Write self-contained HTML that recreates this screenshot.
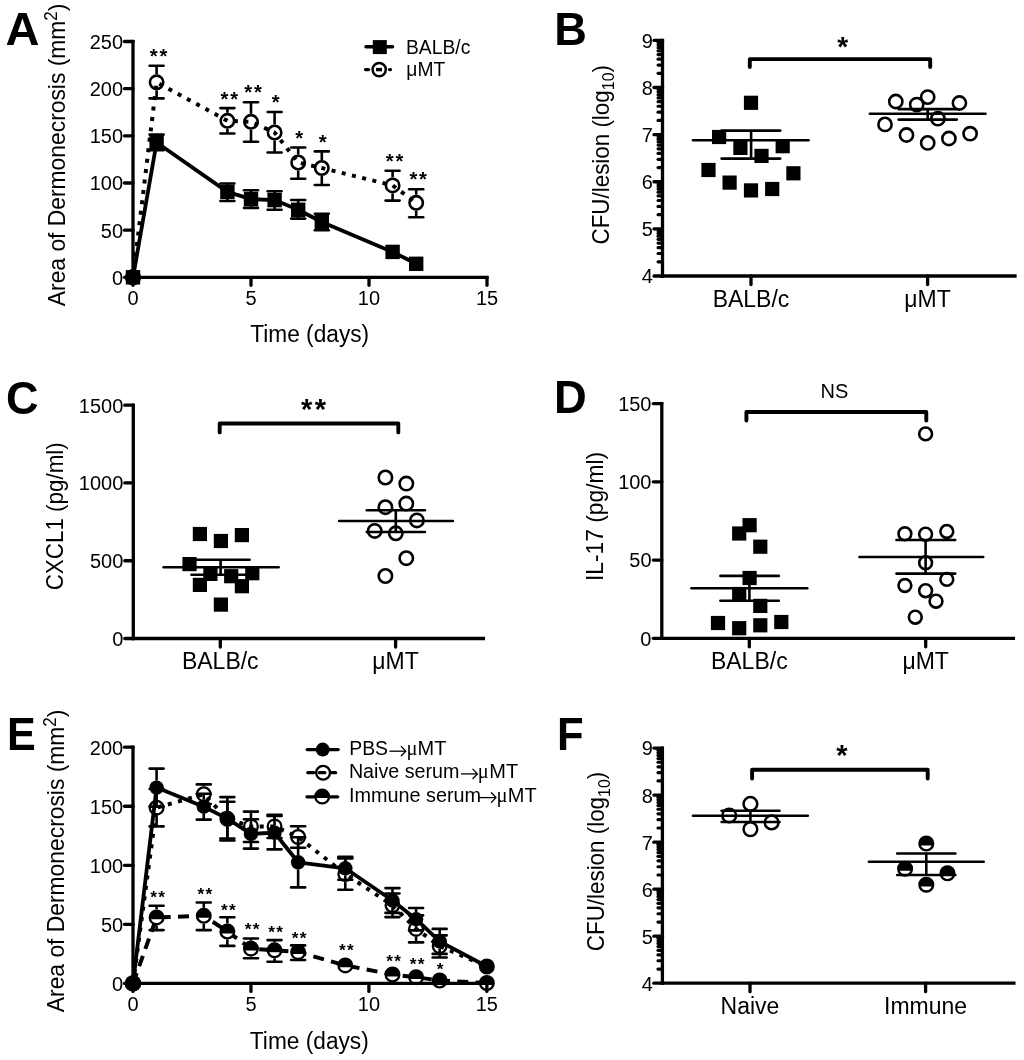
<!DOCTYPE html>
<html><head><meta charset="utf-8"><style>
html,body{margin:0;padding:0;background:#fff;overflow:hidden;}
svg{display:block;filter:grayscale(1);}
</style></head><body>
<svg width="1024" height="1060" viewBox="0 0 1024 1060">
<rect width="1024" height="1060" fill="#fff"/>
<text x="309.70" y="342.50" font-family="'Liberation Sans',sans-serif" font-size="22.7" font-weight="normal" text-anchor="middle" transform="matrix(1,0,0,1.045,0,-15.412)" >Time (days)</text>
<text transform="translate(65.00,306.20) rotate(-90) scale(1,1.045)" font-family="'Liberation Sans',sans-serif" font-size="22.85" text-anchor="start" >Area of Dermonecrosis (mm<tspan dy="-8" font-size="17">2</tspan><tspan dy="8">)</tspan></text>
<text transform="translate(5.40,44.90) scale(1.0,1)" font-family="'Liberation Sans',sans-serif" font-size="47" font-weight="bold">A</text>
<polyline points="133.00,277.30 156.60,82.30 227.40,120.80 251.00,121.80 274.60,132.50 298.20,162.50 321.80,168.00 392.60,185.40 416.20,202.80" fill="none" stroke="#000" stroke-width="4.0" stroke-linecap="butt" stroke-linejoin="miter" stroke-dasharray="4 6.5" stroke-dashoffset="0"/>
<line x1="156.60" y1="65.70" x2="156.60" y2="74.30" stroke="#000" stroke-width="2.6" stroke-linecap="butt" />
<line x1="156.60" y1="90.30" x2="156.60" y2="98.40" stroke="#000" stroke-width="2.6" stroke-linecap="butt" />
<line x1="149.60" y1="65.70" x2="163.60" y2="65.70" stroke="#000" stroke-width="2.6" stroke-linecap="round" />
<line x1="149.60" y1="98.40" x2="163.60" y2="98.40" stroke="#000" stroke-width="2.6" stroke-linecap="round" />
<line x1="227.40" y1="108.10" x2="227.40" y2="112.80" stroke="#000" stroke-width="2.6" stroke-linecap="butt" />
<line x1="227.40" y1="128.80" x2="227.40" y2="133.50" stroke="#000" stroke-width="2.6" stroke-linecap="butt" />
<line x1="220.40" y1="108.10" x2="234.40" y2="108.10" stroke="#000" stroke-width="2.6" stroke-linecap="round" />
<line x1="220.40" y1="133.50" x2="234.40" y2="133.50" stroke="#000" stroke-width="2.6" stroke-linecap="round" />
<line x1="251.00" y1="102.30" x2="251.00" y2="113.80" stroke="#000" stroke-width="2.6" stroke-linecap="butt" />
<line x1="251.00" y1="129.80" x2="251.00" y2="141.70" stroke="#000" stroke-width="2.6" stroke-linecap="butt" />
<line x1="244.00" y1="102.30" x2="258.00" y2="102.30" stroke="#000" stroke-width="2.6" stroke-linecap="round" />
<line x1="244.00" y1="141.70" x2="258.00" y2="141.70" stroke="#000" stroke-width="2.6" stroke-linecap="round" />
<line x1="274.60" y1="112.00" x2="274.60" y2="124.50" stroke="#000" stroke-width="2.6" stroke-linecap="butt" />
<line x1="274.60" y1="140.50" x2="274.60" y2="152.50" stroke="#000" stroke-width="2.6" stroke-linecap="butt" />
<line x1="267.60" y1="112.00" x2="281.60" y2="112.00" stroke="#000" stroke-width="2.6" stroke-linecap="round" />
<line x1="267.60" y1="152.50" x2="281.60" y2="152.50" stroke="#000" stroke-width="2.6" stroke-linecap="round" />
<line x1="298.20" y1="147.50" x2="298.20" y2="154.50" stroke="#000" stroke-width="2.6" stroke-linecap="butt" />
<line x1="298.20" y1="170.50" x2="298.20" y2="178.70" stroke="#000" stroke-width="2.6" stroke-linecap="butt" />
<line x1="291.20" y1="147.50" x2="305.20" y2="147.50" stroke="#000" stroke-width="2.6" stroke-linecap="round" />
<line x1="291.20" y1="178.70" x2="305.20" y2="178.70" stroke="#000" stroke-width="2.6" stroke-linecap="round" />
<line x1="321.80" y1="151.40" x2="321.80" y2="160.00" stroke="#000" stroke-width="2.6" stroke-linecap="butt" />
<line x1="321.80" y1="176.00" x2="321.80" y2="185.00" stroke="#000" stroke-width="2.6" stroke-linecap="butt" />
<line x1="314.80" y1="151.40" x2="328.80" y2="151.40" stroke="#000" stroke-width="2.6" stroke-linecap="round" />
<line x1="314.80" y1="185.00" x2="328.80" y2="185.00" stroke="#000" stroke-width="2.6" stroke-linecap="round" />
<line x1="392.60" y1="170.70" x2="392.60" y2="177.40" stroke="#000" stroke-width="2.6" stroke-linecap="butt" />
<line x1="392.60" y1="193.40" x2="392.60" y2="200.60" stroke="#000" stroke-width="2.6" stroke-linecap="butt" />
<line x1="385.60" y1="170.70" x2="399.60" y2="170.70" stroke="#000" stroke-width="2.6" stroke-linecap="round" />
<line x1="385.60" y1="200.60" x2="399.60" y2="200.60" stroke="#000" stroke-width="2.6" stroke-linecap="round" />
<line x1="416.20" y1="189.30" x2="416.20" y2="194.80" stroke="#000" stroke-width="2.6" stroke-linecap="butt" />
<line x1="416.20" y1="210.80" x2="416.20" y2="217.20" stroke="#000" stroke-width="2.6" stroke-linecap="butt" />
<line x1="409.20" y1="189.30" x2="423.20" y2="189.30" stroke="#000" stroke-width="2.6" stroke-linecap="round" />
<line x1="409.20" y1="217.20" x2="423.20" y2="217.20" stroke="#000" stroke-width="2.6" stroke-linecap="round" />
<circle cx="133.00" cy="277.30" r="6.7" fill="none" stroke="#000" stroke-width="2.6"/>
<circle cx="156.60" cy="82.30" r="6.7" fill="none" stroke="#000" stroke-width="2.6"/>
<circle cx="227.40" cy="120.80" r="6.7" fill="none" stroke="#000" stroke-width="2.6"/>
<circle cx="251.00" cy="121.80" r="6.7" fill="none" stroke="#000" stroke-width="2.6"/>
<circle cx="274.60" cy="132.50" r="6.7" fill="none" stroke="#000" stroke-width="2.6"/>
<circle cx="298.20" cy="162.50" r="6.7" fill="none" stroke="#000" stroke-width="2.6"/>
<circle cx="321.80" cy="168.00" r="6.7" fill="none" stroke="#000" stroke-width="2.6"/>
<circle cx="392.60" cy="185.40" r="6.7" fill="none" stroke="#000" stroke-width="2.6"/>
<circle cx="416.20" cy="202.80" r="6.7" fill="none" stroke="#000" stroke-width="2.6"/>
<polyline points="133.00,277.30 156.60,142.50 227.40,191.90 251.00,199.10 274.60,200.10 298.20,209.80 321.80,222.00 392.60,251.90 416.20,263.80" fill="none" stroke="#000" stroke-width="3.8" stroke-linecap="round" stroke-linejoin="round"/>
<line x1="156.60" y1="134.60" x2="156.60" y2="150.30" stroke="#000" stroke-width="2.6" stroke-linecap="butt" />
<line x1="149.60" y1="134.60" x2="163.60" y2="134.60" stroke="#000" stroke-width="2.6" stroke-linecap="round" />
<line x1="149.60" y1="150.30" x2="163.60" y2="150.30" stroke="#000" stroke-width="2.6" stroke-linecap="round" />
<line x1="227.40" y1="183.50" x2="227.40" y2="201.00" stroke="#000" stroke-width="2.6" stroke-linecap="butt" />
<line x1="220.40" y1="183.50" x2="234.40" y2="183.50" stroke="#000" stroke-width="2.6" stroke-linecap="round" />
<line x1="220.40" y1="201.00" x2="234.40" y2="201.00" stroke="#000" stroke-width="2.6" stroke-linecap="round" />
<line x1="251.00" y1="190.30" x2="251.00" y2="207.90" stroke="#000" stroke-width="2.6" stroke-linecap="butt" />
<line x1="244.00" y1="190.30" x2="258.00" y2="190.30" stroke="#000" stroke-width="2.6" stroke-linecap="round" />
<line x1="244.00" y1="207.90" x2="258.00" y2="207.90" stroke="#000" stroke-width="2.6" stroke-linecap="round" />
<line x1="274.60" y1="191.30" x2="274.60" y2="209.80" stroke="#000" stroke-width="2.6" stroke-linecap="butt" />
<line x1="267.60" y1="191.30" x2="281.60" y2="191.30" stroke="#000" stroke-width="2.6" stroke-linecap="round" />
<line x1="267.60" y1="209.80" x2="281.60" y2="209.80" stroke="#000" stroke-width="2.6" stroke-linecap="round" />
<line x1="298.20" y1="200.00" x2="298.20" y2="218.60" stroke="#000" stroke-width="2.6" stroke-linecap="butt" />
<line x1="291.20" y1="200.00" x2="305.20" y2="200.00" stroke="#000" stroke-width="2.6" stroke-linecap="round" />
<line x1="291.20" y1="218.60" x2="305.20" y2="218.60" stroke="#000" stroke-width="2.6" stroke-linecap="round" />
<line x1="321.80" y1="213.75" x2="321.80" y2="230.30" stroke="#000" stroke-width="2.6" stroke-linecap="butt" />
<line x1="314.80" y1="213.75" x2="328.80" y2="213.75" stroke="#000" stroke-width="2.6" stroke-linecap="round" />
<line x1="314.80" y1="230.30" x2="328.80" y2="230.30" stroke="#000" stroke-width="2.6" stroke-linecap="round" />
<rect x="125.80" y="270.10" width="14.4" height="14.4" fill="#000"/>
<rect x="149.40" y="135.30" width="14.4" height="14.4" fill="#000"/>
<rect x="220.20" y="184.70" width="14.4" height="14.4" fill="#000"/>
<rect x="243.80" y="191.90" width="14.4" height="14.4" fill="#000"/>
<rect x="267.40" y="192.90" width="14.4" height="14.4" fill="#000"/>
<rect x="291.00" y="202.60" width="14.4" height="14.4" fill="#000"/>
<rect x="314.60" y="214.80" width="14.4" height="14.4" fill="#000"/>
<rect x="385.40" y="244.70" width="14.4" height="14.4" fill="#000"/>
<rect x="409.00" y="256.60" width="14.4" height="14.4" fill="#000"/>
<circle cx="133.00" cy="277.30" r="6.7" fill="none" stroke="#000" stroke-width="2.6"/>
<line x1="133.00" y1="41.50" x2="133.00" y2="277.30" stroke="#000" stroke-width="3.3" stroke-linecap="square" />
<line x1="124.50" y1="277.30" x2="133.00" y2="277.30" stroke="#000" stroke-width="3.3" stroke-linecap="round" />
<text x="123.10" y="284.70" font-family="'Liberation Sans',sans-serif" font-size="20" font-weight="normal" text-anchor="end" transform="matrix(1,0,0,1.045,0,-12.811)" >0</text>
<line x1="124.50" y1="230.14" x2="133.00" y2="230.14" stroke="#000" stroke-width="3.3" stroke-linecap="round" />
<text x="123.10" y="237.54" font-family="'Liberation Sans',sans-serif" font-size="20" font-weight="normal" text-anchor="end" transform="matrix(1,0,0,1.045,0,-10.689)" >50</text>
<line x1="124.50" y1="182.98" x2="133.00" y2="182.98" stroke="#000" stroke-width="3.3" stroke-linecap="round" />
<text x="123.10" y="190.38" font-family="'Liberation Sans',sans-serif" font-size="20" font-weight="normal" text-anchor="end" transform="matrix(1,0,0,1.045,0,-8.567)" >100</text>
<line x1="124.50" y1="135.82" x2="133.00" y2="135.82" stroke="#000" stroke-width="3.3" stroke-linecap="round" />
<text x="123.10" y="143.22" font-family="'Liberation Sans',sans-serif" font-size="20" font-weight="normal" text-anchor="end" transform="matrix(1,0,0,1.045,0,-6.445)" >150</text>
<line x1="124.50" y1="88.66" x2="133.00" y2="88.66" stroke="#000" stroke-width="3.3" stroke-linecap="round" />
<text x="123.10" y="96.06" font-family="'Liberation Sans',sans-serif" font-size="20" font-weight="normal" text-anchor="end" transform="matrix(1,0,0,1.045,0,-4.323)" >200</text>
<line x1="124.50" y1="41.50" x2="133.00" y2="41.50" stroke="#000" stroke-width="3.3" stroke-linecap="round" />
<text x="123.10" y="48.90" font-family="'Liberation Sans',sans-serif" font-size="20" font-weight="normal" text-anchor="end" transform="matrix(1,0,0,1.045,0,-2.200)" >250</text>
<line x1="133.00" y1="277.30" x2="487.00" y2="277.30" stroke="#000" stroke-width="3.3" stroke-linecap="square" />
<line x1="133.00" y1="277.30" x2="133.00" y2="285.30" stroke="#000" stroke-width="3.3" stroke-linecap="round" />
<text x="133.00" y="304.70" font-family="'Liberation Sans',sans-serif" font-size="20" font-weight="normal" text-anchor="middle" transform="matrix(1,0,0,1.045,0,-13.711)" >0</text>
<line x1="251.00" y1="277.30" x2="251.00" y2="285.30" stroke="#000" stroke-width="3.3" stroke-linecap="round" />
<text x="251.00" y="304.70" font-family="'Liberation Sans',sans-serif" font-size="20" font-weight="normal" text-anchor="middle" transform="matrix(1,0,0,1.045,0,-13.711)" >5</text>
<line x1="369.00" y1="277.30" x2="369.00" y2="285.30" stroke="#000" stroke-width="3.3" stroke-linecap="round" />
<text x="369.00" y="304.70" font-family="'Liberation Sans',sans-serif" font-size="20" font-weight="normal" text-anchor="middle" transform="matrix(1,0,0,1.045,0,-13.711)" >10</text>
<line x1="487.00" y1="277.30" x2="487.00" y2="285.30" stroke="#000" stroke-width="3.3" stroke-linecap="round" />
<text x="487.00" y="304.70" font-family="'Liberation Sans',sans-serif" font-size="20" font-weight="normal" text-anchor="middle" transform="matrix(1,0,0,1.045,0,-13.711)" >15</text>
<text x="159.50" y="63.19" font-family="'Liberation Sans',sans-serif" font-size="20.3" font-weight="bold" text-anchor="middle" letter-spacing="1.8">**</text>
<text x="230.30" y="105.59" font-family="'Liberation Sans',sans-serif" font-size="20.3" font-weight="bold" text-anchor="middle" letter-spacing="1.8">**</text>
<text x="253.90" y="99.29" font-family="'Liberation Sans',sans-serif" font-size="20.3" font-weight="bold" text-anchor="middle" letter-spacing="1.8">**</text>
<text x="276.50" y="108.59" font-family="'Liberation Sans',sans-serif" font-size="20.3" font-weight="bold" text-anchor="middle" letter-spacing="1.8">*</text>
<text x="300.10" y="145.29" font-family="'Liberation Sans',sans-serif" font-size="20.3" font-weight="bold" text-anchor="middle" letter-spacing="1.8">*</text>
<text x="323.70" y="149.29" font-family="'Liberation Sans',sans-serif" font-size="20.3" font-weight="bold" text-anchor="middle" letter-spacing="1.8">*</text>
<text x="395.50" y="168.29" font-family="'Liberation Sans',sans-serif" font-size="20.3" font-weight="bold" text-anchor="middle" letter-spacing="1.8">**</text>
<text x="419.10" y="185.89" font-family="'Liberation Sans',sans-serif" font-size="20.3" font-weight="bold" text-anchor="middle" letter-spacing="1.8">**</text>
<line x1="366.00" y1="46.80" x2="392.50" y2="46.80" stroke="#000" stroke-width="3.5" stroke-linecap="round" />
<rect x="372.80" y="40.10" width="14" height="14" fill="#000"/>
<text x="406.00" y="54.10" font-family="'Liberation Sans',sans-serif" font-size="19.3" font-weight="normal" text-anchor="start" transform="matrix(1,0,0,1.045,0,-2.434)" >BALB/c</text>
<circle cx="379.20" cy="69.60" r="6.6" fill="none" stroke="#000" stroke-width="2.5"/>
<line x1="365.60" y1="69.60" x2="368.50" y2="69.60" stroke="#000" stroke-width="3.4" stroke-linecap="round" />
<line x1="389.60" y1="69.60" x2="390.40" y2="69.60" stroke="#000" stroke-width="3.4" stroke-linecap="round" />
<line x1="376.00" y1="69.60" x2="382.00" y2="69.60" stroke="#000" stroke-width="3.4" stroke-linecap="butt" />
<text x="406.30" y="75.70" font-family="'Liberation Sans',sans-serif" font-size="19.3" font-weight="normal" text-anchor="start" transform="matrix(1,0,0,1.045,0,-3.406)" >&#956;MT</text>
<line x1="662.50" y1="40.40" x2="662.50" y2="276.00" stroke="#000" stroke-width="3.3" stroke-linecap="square" />
<line x1="654.00" y1="276.00" x2="662.50" y2="276.00" stroke="#000" stroke-width="3.3" stroke-linecap="round" />
<text x="652.80" y="283.40" font-family="'Liberation Sans',sans-serif" font-size="20" font-weight="normal" text-anchor="end" transform="matrix(1,0,0,1.045,0,-12.753)" >4</text>
<line x1="658.10" y1="261.82" x2="660.90" y2="261.82" stroke="#000" stroke-width="3.2" stroke-linecap="round" />
<line x1="658.10" y1="253.52" x2="660.90" y2="253.52" stroke="#000" stroke-width="3.2" stroke-linecap="round" />
<line x1="658.10" y1="247.63" x2="660.90" y2="247.63" stroke="#000" stroke-width="3.2" stroke-linecap="round" />
<line x1="658.10" y1="243.06" x2="660.90" y2="243.06" stroke="#000" stroke-width="3.2" stroke-linecap="round" />
<line x1="658.10" y1="239.33" x2="660.90" y2="239.33" stroke="#000" stroke-width="3.2" stroke-linecap="round" />
<line x1="658.10" y1="236.18" x2="660.90" y2="236.18" stroke="#000" stroke-width="3.2" stroke-linecap="round" />
<line x1="658.10" y1="233.45" x2="660.90" y2="233.45" stroke="#000" stroke-width="3.2" stroke-linecap="round" />
<line x1="658.10" y1="231.04" x2="660.90" y2="231.04" stroke="#000" stroke-width="3.2" stroke-linecap="round" />
<line x1="654.00" y1="228.88" x2="662.50" y2="228.88" stroke="#000" stroke-width="3.3" stroke-linecap="round" />
<text x="652.80" y="236.28" font-family="'Liberation Sans',sans-serif" font-size="20" font-weight="normal" text-anchor="end" transform="matrix(1,0,0,1.045,0,-10.633)" >5</text>
<line x1="658.10" y1="214.70" x2="660.90" y2="214.70" stroke="#000" stroke-width="3.2" stroke-linecap="round" />
<line x1="658.10" y1="206.40" x2="660.90" y2="206.40" stroke="#000" stroke-width="3.2" stroke-linecap="round" />
<line x1="658.10" y1="200.51" x2="660.90" y2="200.51" stroke="#000" stroke-width="3.2" stroke-linecap="round" />
<line x1="658.10" y1="195.94" x2="660.90" y2="195.94" stroke="#000" stroke-width="3.2" stroke-linecap="round" />
<line x1="658.10" y1="192.21" x2="660.90" y2="192.21" stroke="#000" stroke-width="3.2" stroke-linecap="round" />
<line x1="658.10" y1="189.06" x2="660.90" y2="189.06" stroke="#000" stroke-width="3.2" stroke-linecap="round" />
<line x1="658.10" y1="186.33" x2="660.90" y2="186.33" stroke="#000" stroke-width="3.2" stroke-linecap="round" />
<line x1="658.10" y1="183.92" x2="660.90" y2="183.92" stroke="#000" stroke-width="3.2" stroke-linecap="round" />
<line x1="654.00" y1="181.76" x2="662.50" y2="181.76" stroke="#000" stroke-width="3.3" stroke-linecap="round" />
<text x="652.80" y="189.16" font-family="'Liberation Sans',sans-serif" font-size="20" font-weight="normal" text-anchor="end" transform="matrix(1,0,0,1.045,0,-8.512)" >6</text>
<line x1="658.10" y1="167.58" x2="660.90" y2="167.58" stroke="#000" stroke-width="3.2" stroke-linecap="round" />
<line x1="658.10" y1="159.28" x2="660.90" y2="159.28" stroke="#000" stroke-width="3.2" stroke-linecap="round" />
<line x1="658.10" y1="153.39" x2="660.90" y2="153.39" stroke="#000" stroke-width="3.2" stroke-linecap="round" />
<line x1="658.10" y1="148.82" x2="660.90" y2="148.82" stroke="#000" stroke-width="3.2" stroke-linecap="round" />
<line x1="658.10" y1="145.09" x2="660.90" y2="145.09" stroke="#000" stroke-width="3.2" stroke-linecap="round" />
<line x1="658.10" y1="141.94" x2="660.90" y2="141.94" stroke="#000" stroke-width="3.2" stroke-linecap="round" />
<line x1="658.10" y1="139.21" x2="660.90" y2="139.21" stroke="#000" stroke-width="3.2" stroke-linecap="round" />
<line x1="658.10" y1="136.80" x2="660.90" y2="136.80" stroke="#000" stroke-width="3.2" stroke-linecap="round" />
<line x1="654.00" y1="134.64" x2="662.50" y2="134.64" stroke="#000" stroke-width="3.3" stroke-linecap="round" />
<text x="652.80" y="142.04" font-family="'Liberation Sans',sans-serif" font-size="20" font-weight="normal" text-anchor="end" transform="matrix(1,0,0,1.045,0,-6.392)" >7</text>
<line x1="658.10" y1="120.46" x2="660.90" y2="120.46" stroke="#000" stroke-width="3.2" stroke-linecap="round" />
<line x1="658.10" y1="112.16" x2="660.90" y2="112.16" stroke="#000" stroke-width="3.2" stroke-linecap="round" />
<line x1="658.10" y1="106.27" x2="660.90" y2="106.27" stroke="#000" stroke-width="3.2" stroke-linecap="round" />
<line x1="658.10" y1="101.70" x2="660.90" y2="101.70" stroke="#000" stroke-width="3.2" stroke-linecap="round" />
<line x1="658.10" y1="97.97" x2="660.90" y2="97.97" stroke="#000" stroke-width="3.2" stroke-linecap="round" />
<line x1="658.10" y1="94.82" x2="660.90" y2="94.82" stroke="#000" stroke-width="3.2" stroke-linecap="round" />
<line x1="658.10" y1="92.09" x2="660.90" y2="92.09" stroke="#000" stroke-width="3.2" stroke-linecap="round" />
<line x1="658.10" y1="89.68" x2="660.90" y2="89.68" stroke="#000" stroke-width="3.2" stroke-linecap="round" />
<line x1="654.00" y1="87.52" x2="662.50" y2="87.52" stroke="#000" stroke-width="3.3" stroke-linecap="round" />
<text x="652.80" y="94.92" font-family="'Liberation Sans',sans-serif" font-size="20" font-weight="normal" text-anchor="end" transform="matrix(1,0,0,1.045,0,-4.271)" >8</text>
<line x1="658.10" y1="73.34" x2="660.90" y2="73.34" stroke="#000" stroke-width="3.2" stroke-linecap="round" />
<line x1="658.10" y1="65.04" x2="660.90" y2="65.04" stroke="#000" stroke-width="3.2" stroke-linecap="round" />
<line x1="658.10" y1="59.15" x2="660.90" y2="59.15" stroke="#000" stroke-width="3.2" stroke-linecap="round" />
<line x1="658.10" y1="54.58" x2="660.90" y2="54.58" stroke="#000" stroke-width="3.2" stroke-linecap="round" />
<line x1="658.10" y1="50.85" x2="660.90" y2="50.85" stroke="#000" stroke-width="3.2" stroke-linecap="round" />
<line x1="658.10" y1="47.70" x2="660.90" y2="47.70" stroke="#000" stroke-width="3.2" stroke-linecap="round" />
<line x1="658.10" y1="44.97" x2="660.90" y2="44.97" stroke="#000" stroke-width="3.2" stroke-linecap="round" />
<line x1="658.10" y1="42.56" x2="660.90" y2="42.56" stroke="#000" stroke-width="3.2" stroke-linecap="round" />
<line x1="654.00" y1="40.40" x2="662.50" y2="40.40" stroke="#000" stroke-width="3.3" stroke-linecap="round" />
<text x="652.80" y="47.80" font-family="'Liberation Sans',sans-serif" font-size="20" font-weight="normal" text-anchor="end" transform="matrix(1,0,0,1.045,0,-2.151)" >9</text>
<line x1="662.50" y1="276.00" x2="1015.00" y2="276.00" stroke="#000" stroke-width="3.3" stroke-linecap="square" />
<line x1="751.00" y1="276.00" x2="751.00" y2="284.50" stroke="#000" stroke-width="3.3" stroke-linecap="round" />
<text x="751.00" y="307.10" font-family="'Liberation Sans',sans-serif" font-size="23" font-weight="normal" text-anchor="middle" transform="matrix(1,0,0,1.045,0,-13.819)" >BALB/c</text>
<line x1="927.60" y1="276.00" x2="927.60" y2="284.50" stroke="#000" stroke-width="3.3" stroke-linecap="round" />
<text x="927.60" y="307.10" font-family="'Liberation Sans',sans-serif" font-size="23" font-weight="normal" text-anchor="middle" transform="matrix(1,0,0,1.045,0,-13.819)" >&#956;MT</text>
<text transform="translate(608.50,244.50) rotate(-90) scale(1,1.045)" font-family="'Liberation Sans',sans-serif" font-size="22.4" text-anchor="start" >CFU/lesion (log<tspan dy="5" font-size="16">10</tspan><tspan dy="-5">)</tspan></text>
<text transform="translate(554.30,44.70) scale(0.962,1)" font-family="'Liberation Sans',sans-serif" font-size="47" font-weight="bold">B</text>
<rect x="743.90" y="95.70" width="14.2" height="14.2" fill="#000"/>
<rect x="712.00" y="129.90" width="14.2" height="14.2" fill="#000"/>
<rect x="733.30" y="140.80" width="14.2" height="14.2" fill="#000"/>
<rect x="754.40" y="148.80" width="14.2" height="14.2" fill="#000"/>
<rect x="775.60" y="139.10" width="14.2" height="14.2" fill="#000"/>
<rect x="701.40" y="162.90" width="14.2" height="14.2" fill="#000"/>
<rect x="722.50" y="175.50" width="14.2" height="14.2" fill="#000"/>
<rect x="743.90" y="183.30" width="14.2" height="14.2" fill="#000"/>
<rect x="765.10" y="181.90" width="14.2" height="14.2" fill="#000"/>
<rect x="786.30" y="166.20" width="14.2" height="14.2" fill="#000"/>
<line x1="693.00" y1="140.20" x2="808.60" y2="140.20" stroke="#000" stroke-width="2.6" stroke-linecap="round" />
<line x1="721.60" y1="130.60" x2="780.20" y2="130.60" stroke="#000" stroke-width="2.6" stroke-linecap="round" />
<line x1="721.60" y1="158.60" x2="780.20" y2="158.60" stroke="#000" stroke-width="2.6" stroke-linecap="round" />
<line x1="751.10" y1="130.60" x2="751.10" y2="158.60" stroke="#000" stroke-width="2.6" stroke-linecap="butt" />
<circle cx="895.80" cy="101.50" r="6.6" fill="none" stroke="#000" stroke-width="2.6"/>
<circle cx="916.70" cy="104.60" r="6.6" fill="none" stroke="#000" stroke-width="2.6"/>
<circle cx="927.70" cy="97.10" r="6.6" fill="none" stroke="#000" stroke-width="2.6"/>
<circle cx="959.40" cy="103.00" r="6.6" fill="none" stroke="#000" stroke-width="2.6"/>
<circle cx="885.00" cy="124.40" r="6.6" fill="none" stroke="#000" stroke-width="2.6"/>
<circle cx="937.90" cy="118.70" r="6.6" fill="none" stroke="#000" stroke-width="2.6"/>
<circle cx="906.50" cy="135.00" r="6.6" fill="none" stroke="#000" stroke-width="2.6"/>
<circle cx="927.70" cy="142.90" r="6.6" fill="none" stroke="#000" stroke-width="2.6"/>
<circle cx="948.90" cy="138.50" r="6.6" fill="none" stroke="#000" stroke-width="2.6"/>
<circle cx="970.10" cy="133.70" r="6.6" fill="none" stroke="#000" stroke-width="2.6"/>
<line x1="869.90" y1="113.80" x2="985.50" y2="113.80" stroke="#000" stroke-width="2.6" stroke-linecap="round" />
<line x1="898.60" y1="109.10" x2="956.80" y2="109.10" stroke="#000" stroke-width="2.6" stroke-linecap="round" />
<line x1="898.60" y1="119.60" x2="956.80" y2="119.60" stroke="#000" stroke-width="2.6" stroke-linecap="round" />
<line x1="927.70" y1="109.10" x2="927.70" y2="119.60" stroke="#000" stroke-width="2.6" stroke-linecap="butt" />
<polyline points="749.80,67.10 749.80,59.10 930.20,59.10 930.20,67.10" fill="none" stroke="#000" stroke-width="3.9" stroke-linecap="round" stroke-linejoin="round"/>
<text x="842.80" y="56.36" font-family="'Liberation Sans',sans-serif" font-size="28" font-weight="bold" text-anchor="middle" letter-spacing="0">*</text>
<line x1="133.30" y1="405.20" x2="133.30" y2="638.50" stroke="#000" stroke-width="3.3" stroke-linecap="square" />
<line x1="124.80" y1="638.50" x2="133.30" y2="638.50" stroke="#000" stroke-width="3.3" stroke-linecap="round" />
<text x="123.30" y="645.90" font-family="'Liberation Sans',sans-serif" font-size="20" font-weight="normal" text-anchor="end" transform="matrix(1,0,0,1.045,0,-29.065)" >0</text>
<line x1="124.80" y1="560.73" x2="133.30" y2="560.73" stroke="#000" stroke-width="3.3" stroke-linecap="round" />
<text x="123.30" y="568.13" font-family="'Liberation Sans',sans-serif" font-size="20" font-weight="normal" text-anchor="end" transform="matrix(1,0,0,1.045,0,-25.566)" >500</text>
<line x1="124.80" y1="482.97" x2="133.30" y2="482.97" stroke="#000" stroke-width="3.3" stroke-linecap="round" />
<text x="123.30" y="490.37" font-family="'Liberation Sans',sans-serif" font-size="20" font-weight="normal" text-anchor="end" transform="matrix(1,0,0,1.045,0,-22.066)" >1000</text>
<line x1="124.80" y1="405.20" x2="133.30" y2="405.20" stroke="#000" stroke-width="3.3" stroke-linecap="round" />
<text x="123.30" y="412.60" font-family="'Liberation Sans',sans-serif" font-size="20" font-weight="normal" text-anchor="end" transform="matrix(1,0,0,1.045,0,-18.567)" >1500</text>
<line x1="133.30" y1="638.50" x2="483.40" y2="638.50" stroke="#000" stroke-width="3.3" stroke-linecap="square" />
<line x1="220.30" y1="638.50" x2="220.30" y2="647.00" stroke="#000" stroke-width="3.3" stroke-linecap="round" />
<text x="220.30" y="668.80" font-family="'Liberation Sans',sans-serif" font-size="23" font-weight="normal" text-anchor="middle" transform="matrix(1,0,0,1.045,0,-30.096)" >BALB/c</text>
<line x1="395.60" y1="638.50" x2="395.60" y2="647.00" stroke="#000" stroke-width="3.3" stroke-linecap="round" />
<text x="395.60" y="668.80" font-family="'Liberation Sans',sans-serif" font-size="23" font-weight="normal" text-anchor="middle" transform="matrix(1,0,0,1.045,0,-30.096)" >&#956;MT</text>
<text transform="translate(62.50,590.30) rotate(-90) scale(1,1.045)" font-family="'Liberation Sans',sans-serif" font-size="22.4" text-anchor="start" >CXCL1 (pg/ml)</text>
<text transform="translate(6.05,413.90) scale(0.96,1)" font-family="'Liberation Sans',sans-serif" font-size="47" font-weight="bold">C</text>
<rect x="192.80" y="526.90" width="14.2" height="14.2" fill="#000"/>
<rect x="213.80" y="533.90" width="14.2" height="14.2" fill="#000"/>
<rect x="234.80" y="528.00" width="14.2" height="14.2" fill="#000"/>
<rect x="182.40" y="557.00" width="14.2" height="14.2" fill="#000"/>
<rect x="203.30" y="566.80" width="14.2" height="14.2" fill="#000"/>
<rect x="224.10" y="569.10" width="14.2" height="14.2" fill="#000"/>
<rect x="245.20" y="566.10" width="14.2" height="14.2" fill="#000"/>
<rect x="192.80" y="577.80" width="14.2" height="14.2" fill="#000"/>
<rect x="234.80" y="579.10" width="14.2" height="14.2" fill="#000"/>
<rect x="213.80" y="597.50" width="14.2" height="14.2" fill="#000"/>
<line x1="163.60" y1="567.20" x2="278.60" y2="567.20" stroke="#000" stroke-width="2.6" stroke-linecap="round" />
<line x1="191.50" y1="559.80" x2="249.60" y2="559.80" stroke="#000" stroke-width="2.6" stroke-linecap="round" />
<line x1="191.50" y1="574.70" x2="249.60" y2="574.70" stroke="#000" stroke-width="2.6" stroke-linecap="round" />
<line x1="220.60" y1="559.80" x2="220.60" y2="574.70" stroke="#000" stroke-width="2.6" stroke-linecap="butt" />
<circle cx="385.40" cy="477.50" r="6.7" fill="none" stroke="#000" stroke-width="2.6"/>
<circle cx="406.30" cy="483.60" r="6.7" fill="none" stroke="#000" stroke-width="2.6"/>
<circle cx="385.40" cy="507.20" r="6.7" fill="none" stroke="#000" stroke-width="2.6"/>
<circle cx="406.30" cy="503.60" r="6.7" fill="none" stroke="#000" stroke-width="2.6"/>
<circle cx="416.90" cy="520.40" r="6.7" fill="none" stroke="#000" stroke-width="2.6"/>
<circle cx="374.70" cy="530.90" r="6.7" fill="none" stroke="#000" stroke-width="2.6"/>
<circle cx="395.80" cy="533.30" r="6.7" fill="none" stroke="#000" stroke-width="2.6"/>
<circle cx="406.30" cy="558.20" r="6.7" fill="none" stroke="#000" stroke-width="2.6"/>
<circle cx="385.40" cy="576.00" r="6.7" fill="none" stroke="#000" stroke-width="2.6"/>
<line x1="339.20" y1="521.00" x2="452.90" y2="521.00" stroke="#000" stroke-width="2.6" stroke-linecap="round" />
<line x1="366.80" y1="510.30" x2="424.90" y2="510.30" stroke="#000" stroke-width="2.6" stroke-linecap="round" />
<line x1="366.80" y1="532.00" x2="424.90" y2="532.00" stroke="#000" stroke-width="2.6" stroke-linecap="round" />
<line x1="395.80" y1="510.30" x2="395.80" y2="532.00" stroke="#000" stroke-width="2.6" stroke-linecap="butt" />
<polyline points="219.70,432.40 219.70,423.50 398.30,423.50 398.30,432.40" fill="none" stroke="#000" stroke-width="3.9" stroke-linecap="round" stroke-linejoin="round"/>
<text x="314.70" y="418.96" font-family="'Liberation Sans',sans-serif" font-size="29" font-weight="bold" text-anchor="middle" letter-spacing="2.4">**</text>
<line x1="661.80" y1="403.60" x2="661.80" y2="638.30" stroke="#000" stroke-width="3.3" stroke-linecap="square" />
<line x1="653.30" y1="638.30" x2="661.80" y2="638.30" stroke="#000" stroke-width="3.3" stroke-linecap="round" />
<text x="651.50" y="645.70" font-family="'Liberation Sans',sans-serif" font-size="20" font-weight="normal" text-anchor="end" transform="matrix(1,0,0,1.045,0,-29.056)" >0</text>
<line x1="653.30" y1="560.07" x2="661.80" y2="560.07" stroke="#000" stroke-width="3.3" stroke-linecap="round" />
<text x="651.50" y="567.47" font-family="'Liberation Sans',sans-serif" font-size="20" font-weight="normal" text-anchor="end" transform="matrix(1,0,0,1.045,0,-25.536)" >50</text>
<line x1="653.30" y1="481.83" x2="661.80" y2="481.83" stroke="#000" stroke-width="3.3" stroke-linecap="round" />
<text x="651.50" y="489.23" font-family="'Liberation Sans',sans-serif" font-size="20" font-weight="normal" text-anchor="end" transform="matrix(1,0,0,1.045,0,-22.015)" >100</text>
<line x1="653.30" y1="403.60" x2="661.80" y2="403.60" stroke="#000" stroke-width="3.3" stroke-linecap="round" />
<text x="651.50" y="411.00" font-family="'Liberation Sans',sans-serif" font-size="20" font-weight="normal" text-anchor="end" transform="matrix(1,0,0,1.045,0,-18.495)" >150</text>
<line x1="661.80" y1="638.30" x2="1013.40" y2="638.30" stroke="#000" stroke-width="3.3" stroke-linecap="square" />
<line x1="749.30" y1="638.30" x2="749.30" y2="646.80" stroke="#000" stroke-width="3.3" stroke-linecap="round" />
<text x="749.30" y="669.30" font-family="'Liberation Sans',sans-serif" font-size="23" font-weight="normal" text-anchor="middle" transform="matrix(1,0,0,1.045,0,-30.118)" >BALB/c</text>
<line x1="925.70" y1="638.30" x2="925.70" y2="646.80" stroke="#000" stroke-width="3.3" stroke-linecap="round" />
<text x="925.70" y="669.30" font-family="'Liberation Sans',sans-serif" font-size="23" font-weight="normal" text-anchor="middle" transform="matrix(1,0,0,1.045,0,-30.118)" >&#956;MT</text>
<text transform="translate(602.80,581.00) rotate(-90) scale(1,1.045)" font-family="'Liberation Sans',sans-serif" font-size="22.8" text-anchor="start" >IL-17 (pg/ml)</text>
<text transform="translate(554.00,413.20) scale(0.965,1)" font-family="'Liberation Sans',sans-serif" font-size="47" font-weight="bold">D</text>
<rect x="742.50" y="518.10" width="14.2" height="14.2" fill="#000"/>
<rect x="732.10" y="526.40" width="14.2" height="14.2" fill="#000"/>
<rect x="753.20" y="539.60" width="14.2" height="14.2" fill="#000"/>
<rect x="742.50" y="570.90" width="14.2" height="14.2" fill="#000"/>
<rect x="732.10" y="586.90" width="14.2" height="14.2" fill="#000"/>
<rect x="753.20" y="598.80" width="14.2" height="14.2" fill="#000"/>
<rect x="710.90" y="615.90" width="14.2" height="14.2" fill="#000"/>
<rect x="732.10" y="621.10" width="14.2" height="14.2" fill="#000"/>
<rect x="753.20" y="618.20" width="14.2" height="14.2" fill="#000"/>
<rect x="774.20" y="614.90" width="14.2" height="14.2" fill="#000"/>
<line x1="691.50" y1="588.20" x2="807.20" y2="588.20" stroke="#000" stroke-width="2.6" stroke-linecap="round" />
<line x1="720.40" y1="575.90" x2="778.80" y2="575.90" stroke="#000" stroke-width="2.6" stroke-linecap="round" />
<line x1="720.40" y1="600.80" x2="778.80" y2="600.80" stroke="#000" stroke-width="2.6" stroke-linecap="round" />
<line x1="749.40" y1="575.90" x2="749.40" y2="600.80" stroke="#000" stroke-width="2.6" stroke-linecap="butt" />
<circle cx="925.60" cy="433.90" r="6.4" fill="none" stroke="#000" stroke-width="2.6"/>
<circle cx="904.90" cy="533.80" r="6.4" fill="none" stroke="#000" stroke-width="2.6"/>
<circle cx="925.60" cy="534.20" r="6.4" fill="none" stroke="#000" stroke-width="2.6"/>
<circle cx="946.80" cy="531.50" r="6.4" fill="none" stroke="#000" stroke-width="2.6"/>
<circle cx="925.60" cy="562.80" r="6.4" fill="none" stroke="#000" stroke-width="2.6"/>
<circle cx="904.90" cy="585.50" r="6.4" fill="none" stroke="#000" stroke-width="2.6"/>
<circle cx="946.80" cy="579.40" r="6.4" fill="none" stroke="#000" stroke-width="2.6"/>
<circle cx="925.60" cy="590.70" r="6.4" fill="none" stroke="#000" stroke-width="2.6"/>
<circle cx="936.00" cy="601.20" r="6.4" fill="none" stroke="#000" stroke-width="2.6"/>
<circle cx="915.30" cy="617.20" r="6.4" fill="none" stroke="#000" stroke-width="2.6"/>
<line x1="859.50" y1="557.00" x2="983.20" y2="557.00" stroke="#000" stroke-width="2.6" stroke-linecap="round" />
<line x1="896.50" y1="540.00" x2="955.20" y2="540.00" stroke="#000" stroke-width="2.6" stroke-linecap="round" />
<line x1="896.50" y1="573.60" x2="955.20" y2="573.60" stroke="#000" stroke-width="2.6" stroke-linecap="round" />
<line x1="925.60" y1="540.00" x2="925.60" y2="573.60" stroke="#000" stroke-width="2.6" stroke-linecap="butt" />
<polyline points="746.40,420.50 746.40,412.00 926.30,412.00 926.30,420.50" fill="none" stroke="#000" stroke-width="3.9" stroke-linecap="round" stroke-linejoin="round"/>
<text x="834.50" y="397.70" font-family="'Liberation Sans',sans-serif" font-size="20" font-weight="normal" text-anchor="middle" transform="matrix(1,0,0,1.045,0,-17.896)" >NS</text>
<text x="309.30" y="1048.60" font-family="'Liberation Sans',sans-serif" font-size="22.7" font-weight="normal" text-anchor="middle" transform="matrix(1,0,0,1.045,0,-47.187)" >Time (days)</text>
<text transform="translate(63.90,1012.20) rotate(-90) scale(1,1.045)" font-family="'Liberation Sans',sans-serif" font-size="22.85" text-anchor="start" >Area of Dermonecrosis (mm<tspan dy="-8" font-size="17">2</tspan><tspan dy="8">)</tspan></text>
<text transform="translate(7.10,750.00) scale(0.917,1)" font-family="'Liberation Sans',sans-serif" font-size="47" font-weight="bold">E</text>
<polyline points="133.00,983.40 156.59,917.40 203.77,915.80 227.36,931.50 250.95,948.60 274.54,950.30 298.13,952.10 345.31,965.40 392.49,974.50 416.08,977.20 439.67,980.50 486.85,983.00" fill="none" stroke="#000" stroke-width="4.0" stroke-linecap="butt" stroke-linejoin="miter" stroke-dasharray="11 7.3" stroke-dashoffset="0"/>
<line x1="156.59" y1="905.80" x2="156.59" y2="909.40" stroke="#000" stroke-width="2.6" stroke-linecap="butt" />
<line x1="156.59" y1="925.40" x2="156.59" y2="930.10" stroke="#000" stroke-width="2.6" stroke-linecap="butt" />
<line x1="149.59" y1="905.80" x2="163.59" y2="905.80" stroke="#000" stroke-width="2.6" stroke-linecap="round" />
<line x1="149.59" y1="930.10" x2="163.59" y2="930.10" stroke="#000" stroke-width="2.6" stroke-linecap="round" />
<line x1="203.77" y1="902.50" x2="203.77" y2="907.80" stroke="#000" stroke-width="2.6" stroke-linecap="butt" />
<line x1="203.77" y1="923.80" x2="203.77" y2="930.10" stroke="#000" stroke-width="2.6" stroke-linecap="butt" />
<line x1="196.77" y1="902.50" x2="210.77" y2="902.50" stroke="#000" stroke-width="2.6" stroke-linecap="round" />
<line x1="196.77" y1="930.10" x2="210.77" y2="930.10" stroke="#000" stroke-width="2.6" stroke-linecap="round" />
<line x1="227.36" y1="917.30" x2="227.36" y2="923.50" stroke="#000" stroke-width="2.6" stroke-linecap="butt" />
<line x1="227.36" y1="939.50" x2="227.36" y2="945.90" stroke="#000" stroke-width="2.6" stroke-linecap="butt" />
<line x1="220.36" y1="917.30" x2="234.36" y2="917.30" stroke="#000" stroke-width="2.6" stroke-linecap="round" />
<line x1="220.36" y1="945.90" x2="234.36" y2="945.90" stroke="#000" stroke-width="2.6" stroke-linecap="round" />
<line x1="250.95" y1="938.50" x2="250.95" y2="940.60" stroke="#000" stroke-width="2.6" stroke-linecap="butt" />
<line x1="250.95" y1="956.60" x2="250.95" y2="958.20" stroke="#000" stroke-width="2.6" stroke-linecap="butt" />
<line x1="243.95" y1="938.50" x2="257.95" y2="938.50" stroke="#000" stroke-width="2.6" stroke-linecap="round" />
<line x1="243.95" y1="958.20" x2="257.95" y2="958.20" stroke="#000" stroke-width="2.6" stroke-linecap="round" />
<line x1="274.54" y1="940.10" x2="274.54" y2="942.30" stroke="#000" stroke-width="2.6" stroke-linecap="butt" />
<line x1="274.54" y1="958.30" x2="274.54" y2="961.70" stroke="#000" stroke-width="2.6" stroke-linecap="butt" />
<line x1="267.54" y1="940.10" x2="281.54" y2="940.10" stroke="#000" stroke-width="2.6" stroke-linecap="round" />
<line x1="267.54" y1="961.70" x2="281.54" y2="961.70" stroke="#000" stroke-width="2.6" stroke-linecap="round" />
<line x1="291.13" y1="945.40" x2="305.13" y2="945.40" stroke="#000" stroke-width="2.6" stroke-linecap="round" />
<line x1="291.13" y1="960.00" x2="305.13" y2="960.00" stroke="#000" stroke-width="2.6" stroke-linecap="round" />
<circle cx="133.00" cy="983.40" r="6.85" fill="#fff" stroke="#000" stroke-width="2.3"/>
<path d="M126.42,985.30 A6.85,6.85 0 1 1 139.58,985.30 Z" fill="#000"/>
<circle cx="156.59" cy="917.40" r="6.85" fill="#fff" stroke="#000" stroke-width="2.3"/>
<path d="M150.01,919.30 A6.85,6.85 0 1 1 163.17,919.30 Z" fill="#000"/>
<circle cx="203.77" cy="915.80" r="6.85" fill="#fff" stroke="#000" stroke-width="2.3"/>
<path d="M197.19,917.70 A6.85,6.85 0 1 1 210.35,917.70 Z" fill="#000"/>
<circle cx="227.36" cy="931.50" r="6.85" fill="#fff" stroke="#000" stroke-width="2.3"/>
<path d="M220.78,933.40 A6.85,6.85 0 1 1 233.94,933.40 Z" fill="#000"/>
<circle cx="250.95" cy="948.60" r="6.85" fill="#fff" stroke="#000" stroke-width="2.3"/>
<path d="M244.37,950.50 A6.85,6.85 0 1 1 257.53,950.50 Z" fill="#000"/>
<circle cx="274.54" cy="950.30" r="6.85" fill="#fff" stroke="#000" stroke-width="2.3"/>
<path d="M267.96,952.20 A6.85,6.85 0 1 1 281.12,952.20 Z" fill="#000"/>
<circle cx="298.13" cy="952.10" r="6.85" fill="#fff" stroke="#000" stroke-width="2.3"/>
<path d="M291.55,954.00 A6.85,6.85 0 1 1 304.71,954.00 Z" fill="#000"/>
<circle cx="345.31" cy="965.40" r="6.85" fill="#fff" stroke="#000" stroke-width="2.3"/>
<path d="M338.73,967.30 A6.85,6.85 0 1 1 351.89,967.30 Z" fill="#000"/>
<circle cx="392.49" cy="974.50" r="6.85" fill="#fff" stroke="#000" stroke-width="2.3"/>
<path d="M385.91,976.40 A6.85,6.85 0 1 1 399.07,976.40 Z" fill="#000"/>
<circle cx="416.08" cy="977.20" r="6.85" fill="#fff" stroke="#000" stroke-width="2.3"/>
<path d="M409.50,979.10 A6.85,6.85 0 1 1 422.66,979.10 Z" fill="#000"/>
<circle cx="439.67" cy="980.50" r="6.85" fill="#fff" stroke="#000" stroke-width="2.3"/>
<path d="M433.09,982.40 A6.85,6.85 0 1 1 446.25,982.40 Z" fill="#000"/>
<circle cx="486.85" cy="983.00" r="6.85" fill="#fff" stroke="#000" stroke-width="2.3"/>
<path d="M480.27,984.90 A6.85,6.85 0 1 1 493.43,984.90 Z" fill="#000"/>
<polyline points="133.00,983.40 156.59,807.70 203.77,794.20 227.36,818.80 250.95,826.40 274.54,826.40 298.13,837.00 345.31,874.10 392.49,905.30 416.08,928.90 439.67,946.10 486.85,966.50" fill="none" stroke="#000" stroke-width="4.0" stroke-linecap="butt" stroke-linejoin="miter" stroke-dasharray="4 6.5" stroke-dashoffset="0"/>
<line x1="156.59" y1="789.00" x2="156.59" y2="799.70" stroke="#000" stroke-width="2.6" stroke-linecap="butt" />
<line x1="156.59" y1="815.70" x2="156.59" y2="826.40" stroke="#000" stroke-width="2.6" stroke-linecap="butt" />
<line x1="149.59" y1="789.00" x2="163.59" y2="789.00" stroke="#000" stroke-width="2.6" stroke-linecap="round" />
<line x1="149.59" y1="826.40" x2="163.59" y2="826.40" stroke="#000" stroke-width="2.6" stroke-linecap="round" />
<line x1="203.77" y1="784.40" x2="203.77" y2="786.20" stroke="#000" stroke-width="2.6" stroke-linecap="butt" />
<line x1="203.77" y1="802.20" x2="203.77" y2="804.00" stroke="#000" stroke-width="2.6" stroke-linecap="butt" />
<line x1="196.77" y1="784.40" x2="210.77" y2="784.40" stroke="#000" stroke-width="2.6" stroke-linecap="round" />
<line x1="196.77" y1="804.00" x2="210.77" y2="804.00" stroke="#000" stroke-width="2.6" stroke-linecap="round" />
<line x1="227.36" y1="801.80" x2="227.36" y2="810.80" stroke="#000" stroke-width="2.6" stroke-linecap="butt" />
<line x1="227.36" y1="826.80" x2="227.36" y2="840.50" stroke="#000" stroke-width="2.6" stroke-linecap="butt" />
<line x1="220.36" y1="801.80" x2="234.36" y2="801.80" stroke="#000" stroke-width="2.6" stroke-linecap="round" />
<line x1="220.36" y1="840.50" x2="234.36" y2="840.50" stroke="#000" stroke-width="2.6" stroke-linecap="round" />
<line x1="250.95" y1="811.60" x2="250.95" y2="818.40" stroke="#000" stroke-width="2.6" stroke-linecap="butt" />
<line x1="250.95" y1="834.40" x2="250.95" y2="842.00" stroke="#000" stroke-width="2.6" stroke-linecap="butt" />
<line x1="243.95" y1="811.60" x2="257.95" y2="811.60" stroke="#000" stroke-width="2.6" stroke-linecap="round" />
<line x1="243.95" y1="842.00" x2="257.95" y2="842.00" stroke="#000" stroke-width="2.6" stroke-linecap="round" />
<line x1="274.54" y1="814.70" x2="274.54" y2="818.40" stroke="#000" stroke-width="2.6" stroke-linecap="butt" />
<line x1="274.54" y1="834.40" x2="274.54" y2="838.00" stroke="#000" stroke-width="2.6" stroke-linecap="butt" />
<line x1="267.54" y1="814.70" x2="281.54" y2="814.70" stroke="#000" stroke-width="2.6" stroke-linecap="round" />
<line x1="267.54" y1="838.00" x2="281.54" y2="838.00" stroke="#000" stroke-width="2.6" stroke-linecap="round" />
<line x1="298.13" y1="826.20" x2="298.13" y2="829.00" stroke="#000" stroke-width="2.6" stroke-linecap="butt" />
<line x1="298.13" y1="845.00" x2="298.13" y2="847.70" stroke="#000" stroke-width="2.6" stroke-linecap="butt" />
<line x1="291.13" y1="826.20" x2="305.13" y2="826.20" stroke="#000" stroke-width="2.6" stroke-linecap="round" />
<line x1="291.13" y1="847.70" x2="305.13" y2="847.70" stroke="#000" stroke-width="2.6" stroke-linecap="round" />
<line x1="345.31" y1="858.40" x2="345.31" y2="866.10" stroke="#000" stroke-width="2.6" stroke-linecap="butt" />
<line x1="345.31" y1="882.10" x2="345.31" y2="889.80" stroke="#000" stroke-width="2.6" stroke-linecap="butt" />
<line x1="338.31" y1="858.40" x2="352.31" y2="858.40" stroke="#000" stroke-width="2.6" stroke-linecap="round" />
<line x1="338.31" y1="889.80" x2="352.31" y2="889.80" stroke="#000" stroke-width="2.6" stroke-linecap="round" />
<line x1="392.49" y1="893.50" x2="392.49" y2="897.30" stroke="#000" stroke-width="2.6" stroke-linecap="butt" />
<line x1="392.49" y1="913.30" x2="392.49" y2="917.10" stroke="#000" stroke-width="2.6" stroke-linecap="butt" />
<line x1="385.49" y1="893.50" x2="399.49" y2="893.50" stroke="#000" stroke-width="2.6" stroke-linecap="round" />
<line x1="385.49" y1="917.10" x2="399.49" y2="917.10" stroke="#000" stroke-width="2.6" stroke-linecap="round" />
<line x1="416.08" y1="915.40" x2="416.08" y2="920.90" stroke="#000" stroke-width="2.6" stroke-linecap="butt" />
<line x1="416.08" y1="936.90" x2="416.08" y2="942.40" stroke="#000" stroke-width="2.6" stroke-linecap="butt" />
<line x1="409.08" y1="915.40" x2="423.08" y2="915.40" stroke="#000" stroke-width="2.6" stroke-linecap="round" />
<line x1="409.08" y1="942.40" x2="423.08" y2="942.40" stroke="#000" stroke-width="2.6" stroke-linecap="round" />
<line x1="439.67" y1="935.40" x2="439.67" y2="938.10" stroke="#000" stroke-width="2.6" stroke-linecap="butt" />
<line x1="439.67" y1="954.10" x2="439.67" y2="957.50" stroke="#000" stroke-width="2.6" stroke-linecap="butt" />
<line x1="432.67" y1="935.40" x2="446.67" y2="935.40" stroke="#000" stroke-width="2.6" stroke-linecap="round" />
<line x1="432.67" y1="957.50" x2="446.67" y2="957.50" stroke="#000" stroke-width="2.6" stroke-linecap="round" />
<circle cx="133.00" cy="983.40" r="6.85" fill="none" stroke="#000" stroke-width="2.3"/>
<circle cx="156.59" cy="807.70" r="6.85" fill="none" stroke="#000" stroke-width="2.3"/>
<circle cx="203.77" cy="794.20" r="6.85" fill="none" stroke="#000" stroke-width="2.3"/>
<circle cx="227.36" cy="818.80" r="6.85" fill="none" stroke="#000" stroke-width="2.3"/>
<circle cx="250.95" cy="826.40" r="6.85" fill="none" stroke="#000" stroke-width="2.3"/>
<circle cx="274.54" cy="826.40" r="6.85" fill="none" stroke="#000" stroke-width="2.3"/>
<circle cx="298.13" cy="837.00" r="6.85" fill="none" stroke="#000" stroke-width="2.3"/>
<circle cx="345.31" cy="874.10" r="6.85" fill="none" stroke="#000" stroke-width="2.3"/>
<circle cx="392.49" cy="905.30" r="6.85" fill="none" stroke="#000" stroke-width="2.3"/>
<circle cx="416.08" cy="928.90" r="6.85" fill="none" stroke="#000" stroke-width="2.3"/>
<circle cx="439.67" cy="946.10" r="6.85" fill="none" stroke="#000" stroke-width="2.3"/>
<circle cx="486.85" cy="966.50" r="6.85" fill="none" stroke="#000" stroke-width="2.3"/>
<polyline points="133.00,983.40 156.59,787.60 203.77,806.70 227.36,818.60 250.95,833.90 274.54,832.70 298.13,862.30 345.31,868.30 392.49,900.50 416.08,919.20 439.67,941.40 486.85,966.50" fill="none" stroke="#000" stroke-width="3.8" stroke-linecap="round" stroke-linejoin="round"/>
<line x1="156.59" y1="768.60" x2="156.59" y2="780.60" stroke="#000" stroke-width="2.6" stroke-linecap="butt" />
<line x1="156.59" y1="794.60" x2="156.59" y2="806.60" stroke="#000" stroke-width="2.6" stroke-linecap="butt" />
<line x1="149.59" y1="768.60" x2="163.59" y2="768.60" stroke="#000" stroke-width="2.6" stroke-linecap="round" />
<line x1="149.59" y1="806.60" x2="163.59" y2="806.60" stroke="#000" stroke-width="2.6" stroke-linecap="round" />
<line x1="203.77" y1="793.80" x2="203.77" y2="799.70" stroke="#000" stroke-width="2.6" stroke-linecap="butt" />
<line x1="203.77" y1="813.70" x2="203.77" y2="819.60" stroke="#000" stroke-width="2.6" stroke-linecap="butt" />
<line x1="196.77" y1="793.80" x2="210.77" y2="793.80" stroke="#000" stroke-width="2.6" stroke-linecap="round" />
<line x1="196.77" y1="819.60" x2="210.77" y2="819.60" stroke="#000" stroke-width="2.6" stroke-linecap="round" />
<line x1="227.36" y1="797.10" x2="227.36" y2="811.60" stroke="#000" stroke-width="2.6" stroke-linecap="butt" />
<line x1="227.36" y1="825.60" x2="227.36" y2="838.50" stroke="#000" stroke-width="2.6" stroke-linecap="butt" />
<line x1="220.36" y1="797.10" x2="234.36" y2="797.10" stroke="#000" stroke-width="2.6" stroke-linecap="round" />
<line x1="220.36" y1="838.50" x2="234.36" y2="838.50" stroke="#000" stroke-width="2.6" stroke-linecap="round" />
<line x1="250.95" y1="819.20" x2="250.95" y2="826.90" stroke="#000" stroke-width="2.6" stroke-linecap="butt" />
<line x1="250.95" y1="840.90" x2="250.95" y2="848.60" stroke="#000" stroke-width="2.6" stroke-linecap="butt" />
<line x1="243.95" y1="819.20" x2="257.95" y2="819.20" stroke="#000" stroke-width="2.6" stroke-linecap="round" />
<line x1="243.95" y1="848.60" x2="257.95" y2="848.60" stroke="#000" stroke-width="2.6" stroke-linecap="round" />
<line x1="274.54" y1="816.00" x2="274.54" y2="825.70" stroke="#000" stroke-width="2.6" stroke-linecap="butt" />
<line x1="274.54" y1="839.70" x2="274.54" y2="849.40" stroke="#000" stroke-width="2.6" stroke-linecap="butt" />
<line x1="267.54" y1="816.00" x2="281.54" y2="816.00" stroke="#000" stroke-width="2.6" stroke-linecap="round" />
<line x1="267.54" y1="849.40" x2="281.54" y2="849.40" stroke="#000" stroke-width="2.6" stroke-linecap="round" />
<line x1="298.13" y1="837.20" x2="298.13" y2="855.30" stroke="#000" stroke-width="2.6" stroke-linecap="butt" />
<line x1="298.13" y1="869.30" x2="298.13" y2="887.40" stroke="#000" stroke-width="2.6" stroke-linecap="butt" />
<line x1="291.13" y1="837.20" x2="305.13" y2="837.20" stroke="#000" stroke-width="2.6" stroke-linecap="round" />
<line x1="291.13" y1="887.40" x2="305.13" y2="887.40" stroke="#000" stroke-width="2.6" stroke-linecap="round" />
<line x1="345.31" y1="856.90" x2="345.31" y2="861.30" stroke="#000" stroke-width="2.6" stroke-linecap="butt" />
<line x1="345.31" y1="875.30" x2="345.31" y2="879.70" stroke="#000" stroke-width="2.6" stroke-linecap="butt" />
<line x1="338.31" y1="856.90" x2="352.31" y2="856.90" stroke="#000" stroke-width="2.6" stroke-linecap="round" />
<line x1="338.31" y1="879.70" x2="352.31" y2="879.70" stroke="#000" stroke-width="2.6" stroke-linecap="round" />
<line x1="392.49" y1="888.10" x2="392.49" y2="893.50" stroke="#000" stroke-width="2.6" stroke-linecap="butt" />
<line x1="392.49" y1="907.50" x2="392.49" y2="912.90" stroke="#000" stroke-width="2.6" stroke-linecap="butt" />
<line x1="385.49" y1="888.10" x2="399.49" y2="888.10" stroke="#000" stroke-width="2.6" stroke-linecap="round" />
<line x1="385.49" y1="912.90" x2="399.49" y2="912.90" stroke="#000" stroke-width="2.6" stroke-linecap="round" />
<line x1="416.08" y1="908.00" x2="416.08" y2="912.20" stroke="#000" stroke-width="2.6" stroke-linecap="butt" />
<line x1="416.08" y1="926.20" x2="416.08" y2="930.40" stroke="#000" stroke-width="2.6" stroke-linecap="butt" />
<line x1="409.08" y1="908.00" x2="423.08" y2="908.00" stroke="#000" stroke-width="2.6" stroke-linecap="round" />
<line x1="409.08" y1="930.40" x2="423.08" y2="930.40" stroke="#000" stroke-width="2.6" stroke-linecap="round" />
<line x1="439.67" y1="928.90" x2="439.67" y2="934.40" stroke="#000" stroke-width="2.6" stroke-linecap="butt" />
<line x1="439.67" y1="948.40" x2="439.67" y2="953.90" stroke="#000" stroke-width="2.6" stroke-linecap="butt" />
<line x1="432.67" y1="928.90" x2="446.67" y2="928.90" stroke="#000" stroke-width="2.6" stroke-linecap="round" />
<line x1="432.67" y1="953.90" x2="446.67" y2="953.90" stroke="#000" stroke-width="2.6" stroke-linecap="round" />
<circle cx="133.00" cy="983.40" r="7.2" fill="#000"/>
<circle cx="156.59" cy="787.60" r="7.2" fill="#000"/>
<circle cx="203.77" cy="806.70" r="7.2" fill="#000"/>
<circle cx="227.36" cy="818.60" r="7.2" fill="#000"/>
<circle cx="250.95" cy="833.90" r="7.2" fill="#000"/>
<circle cx="274.54" cy="832.70" r="7.2" fill="#000"/>
<circle cx="298.13" cy="862.30" r="7.2" fill="#000"/>
<circle cx="345.31" cy="868.30" r="7.2" fill="#000"/>
<circle cx="392.49" cy="900.50" r="7.2" fill="#000"/>
<circle cx="416.08" cy="919.20" r="7.2" fill="#000"/>
<circle cx="439.67" cy="941.40" r="7.2" fill="#000"/>
<circle cx="486.85" cy="966.50" r="7.2" fill="#000"/>
<circle cx="133.00" cy="983.40" r="8.2" fill="#000"/>
<line x1="133.00" y1="747.20" x2="133.00" y2="983.40" stroke="#000" stroke-width="3.3" stroke-linecap="square" />
<line x1="124.50" y1="983.40" x2="133.00" y2="983.40" stroke="#000" stroke-width="3.3" stroke-linecap="round" />
<text x="123.20" y="990.80" font-family="'Liberation Sans',sans-serif" font-size="20" font-weight="normal" text-anchor="end" transform="matrix(1,0,0,1.045,0,-44.586)" >0</text>
<line x1="124.50" y1="924.35" x2="133.00" y2="924.35" stroke="#000" stroke-width="3.3" stroke-linecap="round" />
<text x="123.20" y="931.75" font-family="'Liberation Sans',sans-serif" font-size="20" font-weight="normal" text-anchor="end" transform="matrix(1,0,0,1.045,0,-41.929)" >50</text>
<line x1="124.50" y1="865.30" x2="133.00" y2="865.30" stroke="#000" stroke-width="3.3" stroke-linecap="round" />
<text x="123.20" y="872.70" font-family="'Liberation Sans',sans-serif" font-size="20" font-weight="normal" text-anchor="end" transform="matrix(1,0,0,1.045,0,-39.271)" >100</text>
<line x1="124.50" y1="806.25" x2="133.00" y2="806.25" stroke="#000" stroke-width="3.3" stroke-linecap="round" />
<text x="123.20" y="813.65" font-family="'Liberation Sans',sans-serif" font-size="20" font-weight="normal" text-anchor="end" transform="matrix(1,0,0,1.045,0,-36.614)" >150</text>
<line x1="124.50" y1="747.20" x2="133.00" y2="747.20" stroke="#000" stroke-width="3.3" stroke-linecap="round" />
<text x="123.20" y="754.60" font-family="'Liberation Sans',sans-serif" font-size="20" font-weight="normal" text-anchor="end" transform="matrix(1,0,0,1.045,0,-33.957)" >200</text>
<line x1="133.00" y1="983.40" x2="486.85" y2="983.40" stroke="#000" stroke-width="3.3" stroke-linecap="square" />
<line x1="133.00" y1="983.40" x2="133.00" y2="991.40" stroke="#000" stroke-width="3.3" stroke-linecap="round" />
<text x="133.00" y="1010.80" font-family="'Liberation Sans',sans-serif" font-size="20" font-weight="normal" text-anchor="middle" transform="matrix(1,0,0,1.045,0,-45.486)" >0</text>
<line x1="250.95" y1="983.40" x2="250.95" y2="991.40" stroke="#000" stroke-width="3.3" stroke-linecap="round" />
<text x="250.95" y="1010.80" font-family="'Liberation Sans',sans-serif" font-size="20" font-weight="normal" text-anchor="middle" transform="matrix(1,0,0,1.045,0,-45.486)" >5</text>
<line x1="368.90" y1="983.40" x2="368.90" y2="991.40" stroke="#000" stroke-width="3.3" stroke-linecap="round" />
<text x="368.90" y="1010.80" font-family="'Liberation Sans',sans-serif" font-size="20" font-weight="normal" text-anchor="middle" transform="matrix(1,0,0,1.045,0,-45.486)" >10</text>
<line x1="486.85" y1="983.40" x2="486.85" y2="991.40" stroke="#000" stroke-width="3.3" stroke-linecap="round" />
<text x="486.85" y="1010.80" font-family="'Liberation Sans',sans-serif" font-size="20" font-weight="normal" text-anchor="middle" transform="matrix(1,0,0,1.045,0,-45.486)" >15</text>
<text x="158.34" y="902.98" font-family="'Liberation Sans',sans-serif" font-size="17.3" font-weight="bold" text-anchor="middle" letter-spacing="1.3">**</text>
<text x="205.52" y="900.18" font-family="'Liberation Sans',sans-serif" font-size="17.3" font-weight="bold" text-anchor="middle" letter-spacing="1.3">**</text>
<text x="229.11" y="916.08" font-family="'Liberation Sans',sans-serif" font-size="17.3" font-weight="bold" text-anchor="middle" letter-spacing="1.3">**</text>
<text x="252.70" y="935.28" font-family="'Liberation Sans',sans-serif" font-size="17.3" font-weight="bold" text-anchor="middle" letter-spacing="1.3">**</text>
<text x="276.29" y="938.48" font-family="'Liberation Sans',sans-serif" font-size="17.3" font-weight="bold" text-anchor="middle" letter-spacing="1.3">**</text>
<text x="299.88" y="944.08" font-family="'Liberation Sans',sans-serif" font-size="17.3" font-weight="bold" text-anchor="middle" letter-spacing="1.3">**</text>
<text x="347.06" y="956.38" font-family="'Liberation Sans',sans-serif" font-size="17.3" font-weight="bold" text-anchor="middle" letter-spacing="1.3">**</text>
<text x="394.24" y="967.18" font-family="'Liberation Sans',sans-serif" font-size="17.3" font-weight="bold" text-anchor="middle" letter-spacing="1.3">**</text>
<text x="417.83" y="970.38" font-family="'Liberation Sans',sans-serif" font-size="17.3" font-weight="bold" text-anchor="middle" letter-spacing="1.3">**</text>
<text x="440.82" y="974.88" font-family="'Liberation Sans',sans-serif" font-size="17.3" font-weight="bold" text-anchor="middle" letter-spacing="1.3">*</text>
<line x1="307.30" y1="749.60" x2="338.10" y2="749.60" stroke="#000" stroke-width="3.4" stroke-linecap="round" />
<circle cx="322.70" cy="749.60" r="7.0" fill="#000"/>
<text x="349.20" y="755.50" font-family="'Liberation Sans',sans-serif" font-size="20" font-weight="normal" text-anchor="start" transform="matrix(1,0,0,1.045,0,-33.997)" textLength="38.8" lengthAdjust="spacingAndGlyphs">PBS</text>
<path d="M389.40,751.20 H405.60" fill="none" stroke="#000" stroke-width="1.3" stroke-linecap="butt"/>
<path d="M401.30,746.40 L405.80,751.20 L401.30,755.80" fill="none" stroke="#000" stroke-width="1.3" stroke-linecap="round" stroke-linejoin="miter"/>
<text x="406.60" y="755.50" font-family="'Liberation Serif',serif" font-size="20.5" font-weight="normal" text-anchor="start" transform="matrix(1,0,0,1.045,0,-33.997)" >&#956;</text>
<text x="417.50" y="755.50" font-family="'Liberation Sans',sans-serif" font-size="20" font-weight="normal" text-anchor="start" transform="matrix(1,0,0,1.045,0,-33.997)" >MT</text>
<circle cx="323.10" cy="772.70" r="6.9" fill="none" stroke="#000" stroke-width="2.3"/>
<line x1="307.80" y1="772.70" x2="313.80" y2="772.70" stroke="#000" stroke-width="3.3" stroke-linecap="round" />
<line x1="331.50" y1="772.70" x2="335.60" y2="772.70" stroke="#000" stroke-width="3.3" stroke-linecap="round" />
<line x1="319.50" y1="772.70" x2="324.80" y2="772.70" stroke="#000" stroke-width="3.3" stroke-linecap="round" />
<text x="348.90" y="778.20" font-family="'Liberation Sans',sans-serif" font-size="20" font-weight="normal" text-anchor="start" transform="matrix(1,0,0,1.045,0,-35.019)" textLength="110.6" lengthAdjust="spacingAndGlyphs">Naive serum</text>
<path d="M461.00,773.90 H477.20" fill="none" stroke="#000" stroke-width="1.3" stroke-linecap="butt"/>
<path d="M472.90,769.10 L477.40,773.90 L472.90,778.50" fill="none" stroke="#000" stroke-width="1.3" stroke-linecap="round" stroke-linejoin="miter"/>
<text x="477.80" y="778.20" font-family="'Liberation Serif',serif" font-size="20.5" font-weight="normal" text-anchor="start" transform="matrix(1,0,0,1.045,0,-35.019)" >&#956;</text>
<text x="489.30" y="778.20" font-family="'Liberation Sans',sans-serif" font-size="20" font-weight="normal" text-anchor="start" transform="matrix(1,0,0,1.045,0,-35.019)" >MT</text>
<line x1="307.00" y1="796.80" x2="337.70" y2="796.80" stroke="#000" stroke-width="3.3" stroke-linecap="round" />
<circle cx="322.20" cy="796.60" r="6.85" fill="#fff" stroke="#000" stroke-width="2.3"/>
<path d="M315.52,798.10 A6.85,6.85 0 1 1 328.88,798.10 Z" fill="#000"/>
<text x="348.90" y="802.00" font-family="'Liberation Sans',sans-serif" font-size="20" font-weight="normal" text-anchor="start" transform="matrix(1,0,0,1.045,0,-36.090)" textLength="132.2" lengthAdjust="spacingAndGlyphs">Immune serum</text>
<path d="M479.30,797.60 H495.80" fill="none" stroke="#000" stroke-width="1.3" stroke-linecap="butt"/>
<path d="M491.50,792.80 L496.00,797.60 L491.50,802.20" fill="none" stroke="#000" stroke-width="1.3" stroke-linecap="round" stroke-linejoin="miter"/>
<text x="496.50" y="802.00" font-family="'Liberation Serif',serif" font-size="20.5" font-weight="normal" text-anchor="start" transform="matrix(1,0,0,1.045,0,-36.090)" >&#956;</text>
<text x="507.80" y="802.00" font-family="'Liberation Sans',sans-serif" font-size="20" font-weight="normal" text-anchor="start" transform="matrix(1,0,0,1.045,0,-36.090)" >MT</text>
<line x1="662.40" y1="748.10" x2="662.40" y2="983.20" stroke="#000" stroke-width="3.3" stroke-linecap="square" />
<line x1="653.90" y1="983.20" x2="662.40" y2="983.20" stroke="#000" stroke-width="3.3" stroke-linecap="round" />
<text x="652.80" y="990.60" font-family="'Liberation Sans',sans-serif" font-size="20" font-weight="normal" text-anchor="end" transform="matrix(1,0,0,1.045,0,-44.577)" >4</text>
<line x1="658.00" y1="969.05" x2="660.80" y2="969.05" stroke="#000" stroke-width="3.2" stroke-linecap="round" />
<line x1="658.00" y1="960.77" x2="660.80" y2="960.77" stroke="#000" stroke-width="3.2" stroke-linecap="round" />
<line x1="658.00" y1="954.89" x2="660.80" y2="954.89" stroke="#000" stroke-width="3.2" stroke-linecap="round" />
<line x1="658.00" y1="950.33" x2="660.80" y2="950.33" stroke="#000" stroke-width="3.2" stroke-linecap="round" />
<line x1="658.00" y1="946.61" x2="660.80" y2="946.61" stroke="#000" stroke-width="3.2" stroke-linecap="round" />
<line x1="658.00" y1="943.46" x2="660.80" y2="943.46" stroke="#000" stroke-width="3.2" stroke-linecap="round" />
<line x1="658.00" y1="940.74" x2="660.80" y2="940.74" stroke="#000" stroke-width="3.2" stroke-linecap="round" />
<line x1="658.00" y1="938.33" x2="660.80" y2="938.33" stroke="#000" stroke-width="3.2" stroke-linecap="round" />
<line x1="653.90" y1="936.18" x2="662.40" y2="936.18" stroke="#000" stroke-width="3.3" stroke-linecap="round" />
<text x="652.80" y="943.58" font-family="'Liberation Sans',sans-serif" font-size="20" font-weight="normal" text-anchor="end" transform="matrix(1,0,0,1.045,0,-42.461)" >5</text>
<line x1="658.00" y1="922.03" x2="660.80" y2="922.03" stroke="#000" stroke-width="3.2" stroke-linecap="round" />
<line x1="658.00" y1="913.75" x2="660.80" y2="913.75" stroke="#000" stroke-width="3.2" stroke-linecap="round" />
<line x1="658.00" y1="907.87" x2="660.80" y2="907.87" stroke="#000" stroke-width="3.2" stroke-linecap="round" />
<line x1="658.00" y1="903.31" x2="660.80" y2="903.31" stroke="#000" stroke-width="3.2" stroke-linecap="round" />
<line x1="658.00" y1="899.59" x2="660.80" y2="899.59" stroke="#000" stroke-width="3.2" stroke-linecap="round" />
<line x1="658.00" y1="896.44" x2="660.80" y2="896.44" stroke="#000" stroke-width="3.2" stroke-linecap="round" />
<line x1="658.00" y1="893.72" x2="660.80" y2="893.72" stroke="#000" stroke-width="3.2" stroke-linecap="round" />
<line x1="658.00" y1="891.31" x2="660.80" y2="891.31" stroke="#000" stroke-width="3.2" stroke-linecap="round" />
<line x1="653.90" y1="889.16" x2="662.40" y2="889.16" stroke="#000" stroke-width="3.3" stroke-linecap="round" />
<text x="652.80" y="896.56" font-family="'Liberation Sans',sans-serif" font-size="20" font-weight="normal" text-anchor="end" transform="matrix(1,0,0,1.045,0,-40.345)" >6</text>
<line x1="658.00" y1="875.01" x2="660.80" y2="875.01" stroke="#000" stroke-width="3.2" stroke-linecap="round" />
<line x1="658.00" y1="866.73" x2="660.80" y2="866.73" stroke="#000" stroke-width="3.2" stroke-linecap="round" />
<line x1="658.00" y1="860.85" x2="660.80" y2="860.85" stroke="#000" stroke-width="3.2" stroke-linecap="round" />
<line x1="658.00" y1="856.29" x2="660.80" y2="856.29" stroke="#000" stroke-width="3.2" stroke-linecap="round" />
<line x1="658.00" y1="852.57" x2="660.80" y2="852.57" stroke="#000" stroke-width="3.2" stroke-linecap="round" />
<line x1="658.00" y1="849.42" x2="660.80" y2="849.42" stroke="#000" stroke-width="3.2" stroke-linecap="round" />
<line x1="658.00" y1="846.70" x2="660.80" y2="846.70" stroke="#000" stroke-width="3.2" stroke-linecap="round" />
<line x1="658.00" y1="844.29" x2="660.80" y2="844.29" stroke="#000" stroke-width="3.2" stroke-linecap="round" />
<line x1="653.90" y1="842.14" x2="662.40" y2="842.14" stroke="#000" stroke-width="3.3" stroke-linecap="round" />
<text x="652.80" y="849.54" font-family="'Liberation Sans',sans-serif" font-size="20" font-weight="normal" text-anchor="end" transform="matrix(1,0,0,1.045,0,-38.229)" >7</text>
<line x1="658.00" y1="827.99" x2="660.80" y2="827.99" stroke="#000" stroke-width="3.2" stroke-linecap="round" />
<line x1="658.00" y1="819.71" x2="660.80" y2="819.71" stroke="#000" stroke-width="3.2" stroke-linecap="round" />
<line x1="658.00" y1="813.83" x2="660.80" y2="813.83" stroke="#000" stroke-width="3.2" stroke-linecap="round" />
<line x1="658.00" y1="809.27" x2="660.80" y2="809.27" stroke="#000" stroke-width="3.2" stroke-linecap="round" />
<line x1="658.00" y1="805.55" x2="660.80" y2="805.55" stroke="#000" stroke-width="3.2" stroke-linecap="round" />
<line x1="658.00" y1="802.40" x2="660.80" y2="802.40" stroke="#000" stroke-width="3.2" stroke-linecap="round" />
<line x1="658.00" y1="799.68" x2="660.80" y2="799.68" stroke="#000" stroke-width="3.2" stroke-linecap="round" />
<line x1="658.00" y1="797.27" x2="660.80" y2="797.27" stroke="#000" stroke-width="3.2" stroke-linecap="round" />
<line x1="653.90" y1="795.12" x2="662.40" y2="795.12" stroke="#000" stroke-width="3.3" stroke-linecap="round" />
<text x="652.80" y="802.52" font-family="'Liberation Sans',sans-serif" font-size="20" font-weight="normal" text-anchor="end" transform="matrix(1,0,0,1.045,0,-36.113)" >8</text>
<line x1="658.00" y1="780.97" x2="660.80" y2="780.97" stroke="#000" stroke-width="3.2" stroke-linecap="round" />
<line x1="658.00" y1="772.69" x2="660.80" y2="772.69" stroke="#000" stroke-width="3.2" stroke-linecap="round" />
<line x1="658.00" y1="766.81" x2="660.80" y2="766.81" stroke="#000" stroke-width="3.2" stroke-linecap="round" />
<line x1="658.00" y1="762.25" x2="660.80" y2="762.25" stroke="#000" stroke-width="3.2" stroke-linecap="round" />
<line x1="658.00" y1="758.53" x2="660.80" y2="758.53" stroke="#000" stroke-width="3.2" stroke-linecap="round" />
<line x1="658.00" y1="755.38" x2="660.80" y2="755.38" stroke="#000" stroke-width="3.2" stroke-linecap="round" />
<line x1="658.00" y1="752.66" x2="660.80" y2="752.66" stroke="#000" stroke-width="3.2" stroke-linecap="round" />
<line x1="658.00" y1="750.25" x2="660.80" y2="750.25" stroke="#000" stroke-width="3.2" stroke-linecap="round" />
<line x1="653.90" y1="748.10" x2="662.40" y2="748.10" stroke="#000" stroke-width="3.3" stroke-linecap="round" />
<text x="652.80" y="755.50" font-family="'Liberation Sans',sans-serif" font-size="20" font-weight="normal" text-anchor="end" transform="matrix(1,0,0,1.045,0,-33.997)" >9</text>
<line x1="662.40" y1="983.20" x2="1013.90" y2="983.20" stroke="#000" stroke-width="3.3" stroke-linecap="square" />
<line x1="750.00" y1="983.20" x2="750.00" y2="991.70" stroke="#000" stroke-width="3.3" stroke-linecap="round" />
<text x="750.00" y="1013.70" font-family="'Liberation Sans',sans-serif" font-size="23" font-weight="normal" text-anchor="middle" transform="matrix(1,0,0,1.045,0,-45.616)" >Naive</text>
<line x1="925.60" y1="983.20" x2="925.60" y2="991.70" stroke="#000" stroke-width="3.3" stroke-linecap="round" />
<text x="925.60" y="1013.70" font-family="'Liberation Sans',sans-serif" font-size="23" font-weight="normal" text-anchor="middle" transform="matrix(1,0,0,1.045,0,-45.616)" >Immune</text>
<text transform="translate(604.30,951.20) rotate(-90) scale(1,1.045)" font-family="'Liberation Sans',sans-serif" font-size="22.4" text-anchor="start" >CFU/lesion (log<tspan dy="5" font-size="16">10</tspan><tspan dy="-5">)</tspan></text>
<text transform="translate(556.90,750.30) scale(0.928,1)" font-family="'Liberation Sans',sans-serif" font-size="47" font-weight="bold">F</text>
<circle cx="750.40" cy="803.90" r="6.85" fill="none" stroke="#000" stroke-width="2.5"/>
<circle cx="729.20" cy="815.50" r="6.85" fill="none" stroke="#000" stroke-width="2.5"/>
<circle cx="771.60" cy="822.40" r="6.85" fill="none" stroke="#000" stroke-width="2.5"/>
<circle cx="750.40" cy="829.20" r="6.85" fill="none" stroke="#000" stroke-width="2.5"/>
<line x1="693.00" y1="815.80" x2="807.80" y2="815.80" stroke="#000" stroke-width="2.6" stroke-linecap="round" />
<line x1="721.60" y1="810.80" x2="779.50" y2="810.80" stroke="#000" stroke-width="2.6" stroke-linecap="round" />
<line x1="721.60" y1="822.00" x2="779.50" y2="822.00" stroke="#000" stroke-width="2.6" stroke-linecap="round" />
<line x1="750.40" y1="810.80" x2="750.40" y2="822.00" stroke="#000" stroke-width="2.6" stroke-linecap="butt" />
<circle cx="926.30" cy="843.50" r="6.85" fill="#fff" stroke="#000" stroke-width="2.4"/>
<path d="M919.72,845.40 A6.85,6.85 0 1 1 932.88,845.40 Z" fill="#000"/>
<circle cx="905.10" cy="868.80" r="6.85" fill="#fff" stroke="#000" stroke-width="2.4"/>
<path d="M898.52,870.70 A6.85,6.85 0 1 1 911.68,870.70 Z" fill="#000"/>
<circle cx="947.50" cy="873.30" r="6.85" fill="#fff" stroke="#000" stroke-width="2.4"/>
<path d="M940.92,875.20 A6.85,6.85 0 1 1 954.08,875.20 Z" fill="#000"/>
<circle cx="926.30" cy="884.70" r="6.85" fill="#fff" stroke="#000" stroke-width="2.4"/>
<path d="M919.72,886.60 A6.85,6.85 0 1 1 932.88,886.60 Z" fill="#000"/>
<line x1="868.90" y1="861.70" x2="983.70" y2="861.70" stroke="#000" stroke-width="2.6" stroke-linecap="round" />
<line x1="897.20" y1="853.50" x2="955.40" y2="853.50" stroke="#000" stroke-width="2.6" stroke-linecap="round" />
<line x1="897.20" y1="875.00" x2="955.40" y2="875.00" stroke="#000" stroke-width="2.6" stroke-linecap="round" />
<line x1="926.30" y1="853.50" x2="926.30" y2="875.00" stroke="#000" stroke-width="2.6" stroke-linecap="butt" />
<polyline points="752.10,778.60 752.10,769.70 927.70,769.70 927.70,778.60" fill="none" stroke="#000" stroke-width="3.9" stroke-linecap="round" stroke-linejoin="round"/>
<text x="842.00" y="764.76" font-family="'Liberation Sans',sans-serif" font-size="29" font-weight="bold" text-anchor="middle" letter-spacing="0">*</text>
</svg>
</body></html>
